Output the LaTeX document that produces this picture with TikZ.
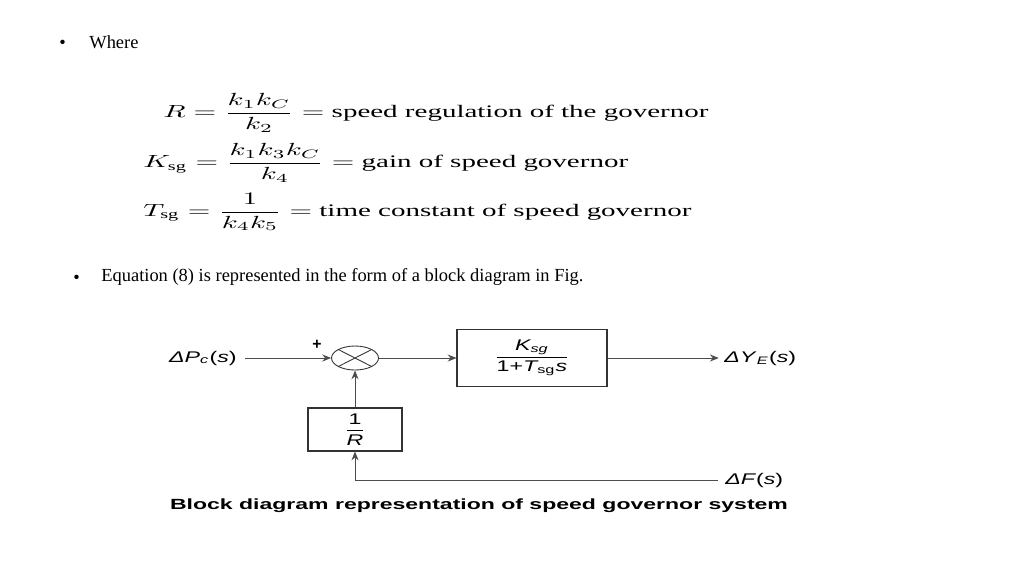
\documentclass[tikz,border=0pt]{standalone}
\usepackage{fontspec}
\usepackage{amsmath}
\usepackage{graphicx}
\setmainfont{Liberation Serif}
\setsansfont{Liberation Sans}
\usetikzlibrary{positioning,arrows.meta,shapes.geometric}
\newcommand{\wideeq}[1]{\scalebox{1.65}[1]{\fontsize{10}{12}\selectfont #1}}
\newcommand{\widesf}[1]{\scalebox{1.5}[1]{\sffamily\fontsize{8.8}{10}\selectfont #1}}
\begin{document}
\begin{tikzpicture}[x=0.02cm,y=-0.02cm,
    txt/.style={anchor=west,inner sep=0pt,font=\fontsize{10.5}{12}\selectfont},
    eqn/.style={anchor=west,inner sep=0pt},
    blk/.style={draw=black!80,line width=0.6pt,inner sep=0pt},
    sig/.style={draw=black!70,line width=0.5pt,-{Stealth[length=5pt,width=4pt]}}]
\useasboundingbox[fill=white] (0,0) rectangle (1024,576);
% Texto de la diapositiva
\node[txt] (dot1) at (59,44) {•};
\node[txt] (where) at (89,42) {Where};
\node[eqn] (eqR) at (163,113) {\wideeq{$R = \dfrac{k_1k_C}{k_2} =$ speed regulation of the governor}};
\node[eqn] (eqK) at (143,163) {\wideeq{$K_{\mathrm{sg}} = \dfrac{k_1k_3k_C}{k_4} =$ gain of speed governor}};
\node[eqn] (eqT) at (143,212) {\wideeq{$T_{\mathrm{sg}} = \dfrac{1}{k_4k_5} =$ time constant of speed governor}};
\node[txt] (dot2) at (73,279) {•};
\node[txt] (eqline) at (101,277) {Equation (8) is represented in the form of a block diagram in Fig.};
% Diagrama de bloques
\node[inner sep=0pt,anchor=east] (pc) at (237,358) {\widesf{\textit{ΔP}\textsubscript{\textit{c}}(\textit{s})}};
\node[draw=black!80,line width=0.5pt,ellipse,minimum width=0.94cm,minimum height=0.48cm,inner sep=0pt] (sum) at (355,358) {};
\draw[black!80,line width=0.5pt] (sum.27) -- (sum.207) (sum.153) -- (sum.333);
\node[font=\sffamily\bfseries\fontsize{9}{10}\selectfont,inner sep=0pt] (plus) at (317,345) {+};
\node[blk,minimum width=3cm,minimum height=1.14cm] (gov) at (532,358) {\widesf{$\dfrac{\textit{K}_{\textit{sg}}}{\text{1+}\textit{T}_{\text{sg}}\textit{s}}$}};
\node[blk,minimum width=1.88cm,minimum height=0.86cm] (fb) at (355,429.5) {\widesf{$\dfrac{\text{1}}{\textit{R}}$}};
\node[inner sep=0pt,anchor=west] (ye) at (724,358) {\widesf{\textit{ΔY}\textsubscript{\textit{E}}(\textit{s})}};
\node[inner sep=0pt,anchor=west] (df) at (725,480) {\widesf{\textit{ΔF}(\textit{s})}};
\coordinate (pcend) at (245,358);
\coordinate (dfend) at (718,480);
\draw[sig] (pcend) -- (sum.west);
\draw[sig] (sum.east) -- (gov.west);
\draw[sig] (gov.east) -- ([xshift=-3pt]ye.west);
\draw[sig] (fb.north) -- (sum.south);
\draw[sig] (dfend) -| (fb.south);
\node[inner sep=0pt] (caption) at (479,506) {\scalebox{1.56}[1]{\sffamily\bfseries\fontsize{8.4}{10}\selectfont Block diagram representation of speed governor system}};
\end{tikzpicture}
\end{document}
